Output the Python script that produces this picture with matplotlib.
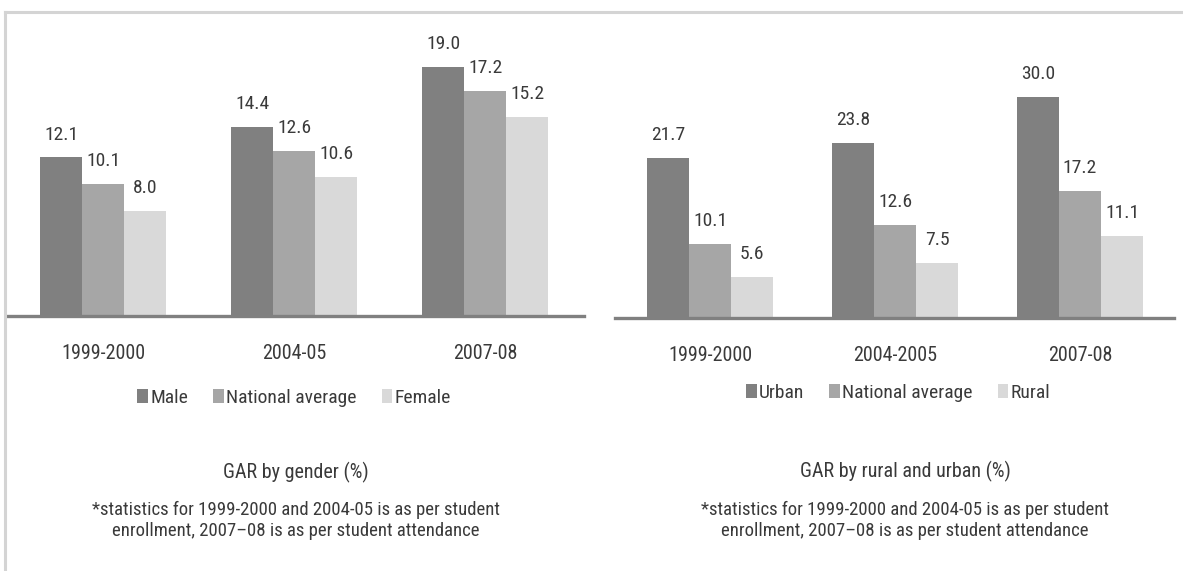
import matplotlib
matplotlib.use("Agg")
import matplotlib.pyplot as plt
from matplotlib.lines import Line2D
from matplotlib.patches import Patch

plt.rcParams['font.family'] = ['Roboto Condensed', 'DejaVu Sans']
plt.rcParams['font.stretch'] = 'condensed'

years_gender = ['1999-2000', '2004-05', '2007-08']
male = [12.1, 14.4, 19.0]
national_g = [10.1, 12.6, 17.2]
female = [8.0, 10.6, 15.2]

years_area = ['1999-2000', '2004-2005', '2007-08']
urban = [21.7, 23.8, 30.0]
national_a = [10.1, 12.6, 17.2]
rural = [5.6, 7.5, 11.1]

colors = ['#808080', '#a6a6a6', '#d9d9d9']
txt = '#3a3a3a'
note1 = '*statistics for 1999-2000 and 2004-05 is as per student'
note2 = 'enrollment, 2007\u201308 is as per student attendance'

W, H = 1183, 571
fig = plt.figure(figsize=(W / 100, H / 100), dpi=100)


def px_axes(x0, x1, ytop, ybot):
    return fig.add_axes([x0 / W, 1 - ybot / H, (x1 - x0) / W, (ybot - ytop) / H])


def draw(ax, cats, series, width, xlim, ylim):
    x = list(range(len(cats)))
    for i, (vals, c) in enumerate(zip(series, colors)):
        pos = [p + (i - 1) * width for p in x]
        bars = ax.bar(pos, vals, width=width, color=c, linewidth=0)
        for b, v in zip(bars, vals):
            ax.annotate(f'{v:.1f}', (b.get_x() + b.get_width() / 2, v),
                        xytext=(0, 10), textcoords='offset points',
                        ha='center', va='bottom', fontsize=14, color=txt)
    ax.set_xlim(*xlim)
    ax.set_ylim(*ylim)
    ax.set_xticks(x)
    ax.set_xticklabels(cats, fontsize=14.5, color=txt)
    ax.tick_params(axis='x', length=0, pad=20)
    ax.set_yticks([])
    for s in ['top', 'left', 'right']:
        ax.spines[s].set_visible(False)
    ax.spines['bottom'].set_color('#808080')
    ax.spines['bottom'].set_linewidth(2.4)
    ax.patch.set_alpha(0)


axl = px_axes(7, 584, 20, 316)
draw(axl, years_gender, [male, national_g, female], 0.22,
     (-0.503, 2.518), (0, 296 / 13.1))

axr = px_axes(615, 1174, 20, 318)
draw(axr, years_area, [urban, national_a, rural], 0.227,
     (-0.514, 2.508), (0, 298 / 7.37))


def legend(names, cx, cy):
    handles = [Patch(facecolor=c, edgecolor='none') for c in colors]
    fig.legend(handles, names, loc='center', bbox_to_anchor=(cx / W, 1 - cy / H),
               ncol=3, frameon=False, fontsize=14, handlelength=0.55,
               handleheight=0.7, handletextpad=0.1, columnspacing=1.3,
               labelcolor=txt)


legend(['Male', 'National average', 'Female'], 294, 398)
legend(['Urban', 'National average', 'Rural'], 898, 393)


def caption(cx, ty, title):
    fig.text(cx / W, 1 - ty / H, title, ha='center', va='center',
             fontsize=14.5, color=txt)
    fig.text(cx / W, 1 - 510 / H, note1, ha='center', va='center',
             fontsize=13.5, color=txt)
    fig.text(cx / W, 1 - 531 / H, note2, ha='center', va='center',
             fontsize=13.5, color=txt)


caption(296, 472, 'GAR by gender (%)')
caption(905, 471, 'GAR by rural and urban (%)')

# light frame at top and left
fig.add_artist(Line2D([5 / W, 1], [1 - 12 / H, 1 - 12 / H],
                      color='#d4d4d4', linewidth=2.2))
fig.add_artist(Line2D([5 / W, 5 / W], [0, 1 - 12 / H],
                      color='#d4d4d4', linewidth=2.2))

fig.savefig('out.png', dpi=100)
